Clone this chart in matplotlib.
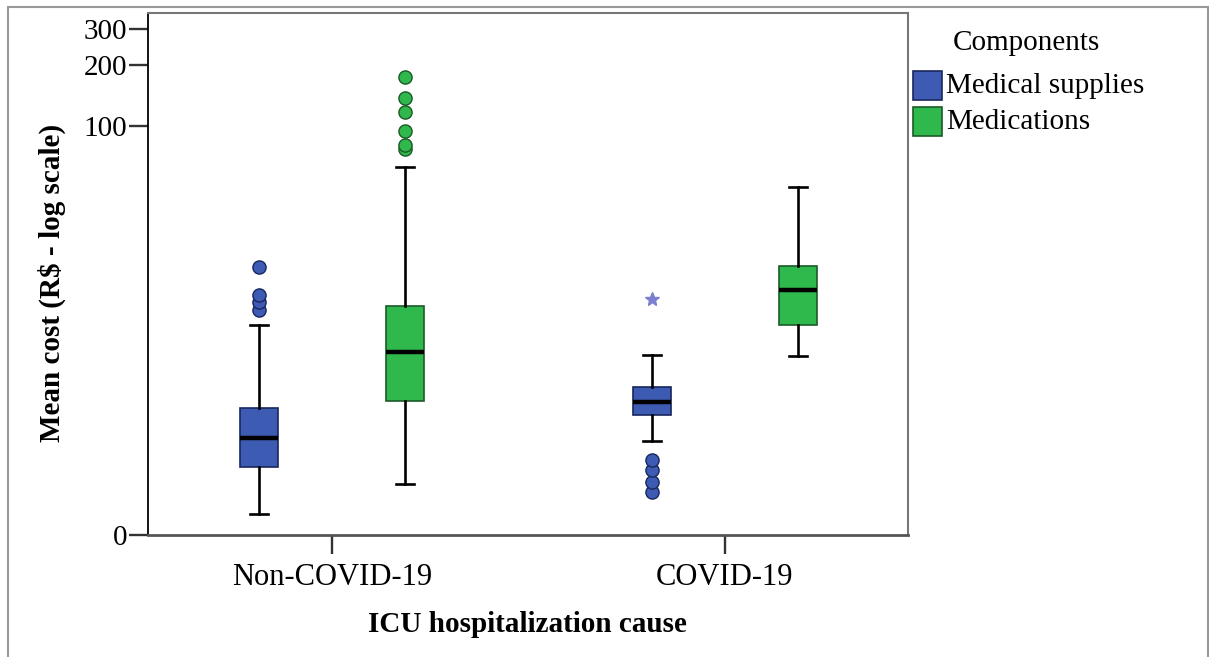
import matplotlib.pyplot as plt
import numpy as np
from matplotlib.patches import Rectangle

plt.rcParams['font.family'] = ['Liberation Serif', 'DejaVu Serif']

groups = ['Non-COVID-19', 'COVID-19']
components = ['Medical supplies', 'Medications']
colors = ['#3d5bb3', '#2fb84b']
edge_colors = ['#18275e', '#1b5a27']

# box summaries per group: whisker low, Q1, median, Q3, whisker high
supplies_lo = [0.27, 1.90]
supplies_q1 = [1.16, 2.88]
supplies_med = [2.0, 3.47]
supplies_q3 = [3.18, 4.30]
supplies_hi = [9.7, 6.63]
supplies_out = [[11.7, 12.9, 14.0, 19.7], [0.63, 0.82, 1.08, 1.33]]
supplies_ext = [[], [13.3]]

meds_lo = [0.77, 6.57]
meds_q1 = [3.52, 9.7]
meds_med = [6.86, 14.8]
meds_q3 = [12.3, 19.8]
meds_hi = [63.0, 49.6]
meds_out = [[77.0, 80.6, 95.0, 118.0, 137.0, 174.0], []]
meds_ext = [[], []]

yticks = [0, 100, 200, 300]


def make_stats(lo, q1, med, q3, hi, out):
    return [dict(whislo=lo[i], q1=q1[i], med=med[i], q3=q3[i], whishi=hi[i],
                 fliers=out[i]) for i in range(len(lo))]


series = [
    (make_stats(supplies_lo, supplies_q1, supplies_med, supplies_q3, supplies_hi, supplies_out), supplies_ext),
    (make_stats(meds_lo, meds_q1, meds_med, meds_q3, meds_hi, meds_out), meds_ext),
]

fig = plt.figure(figsize=(12.09, 6.57), dpi=100)
ax = fig.add_axes([148 / 1209, 1 - 535 / 657, 760 / 1209, 522 / 657])

# log scale that still shows zero: log10(x + 1)
ax.set_yscale('function', functions=(lambda v: np.log10(np.maximum(v, 0) + 1),
                                     lambda t: 10 ** t - 1))

x = np.arange(len(groups))
offsets = [-0.186, 0.186]
for k, (stats, extremes) in enumerate(series):
    pos = x + offsets[k]
    ax.bxp(stats, positions=pos, widths=0.097, capwidths=0.047, patch_artist=True,
           boxprops=dict(facecolor=colors[k], edgecolor=edge_colors[k], linewidth=1.2),
           medianprops=dict(color='black', linewidth=3.2),
           whiskerprops=dict(color='black', linewidth=1.9),
           capprops=dict(color='black', linewidth=1.9),
           flierprops=dict(marker='o', markersize=9.5, markerfacecolor=colors[k],
                           markeredgecolor=edge_colors[k], markeredgewidth=1.0))
    for p, ext in zip(pos, extremes):
        if ext:
            ax.plot([p] * len(ext), ext, linestyle='none', marker='*', markersize=10,
                    color='#7a7fcf')

ax.set_xlim(-0.468, 1.466)
ax.set_ylim(0, 361)
ax.set_xticks(x)
ax.set_xticklabels(groups)
ax.set_yticks(yticks)
ax.set_yticklabels([str(v) for v in yticks])
ax.minorticks_off()
ax.tick_params(axis='both', labelsize=21, length=14, width=1.7, color='#333333')
ax.tick_params(axis='y', pad=1)
ax.tick_params(axis='x', pad=6)
for lbl in ax.get_xticklabels():
    lbl.set_fontsize(22)

ax.spines['left'].set_color('black')
ax.spines['left'].set_linewidth(1.3)
ax.spines['bottom'].set_color('#555555')
ax.spines['bottom'].set_linewidth(2.0)
for side in ['top', 'right']:
    ax.spines[side].set_color('#777777')
    ax.spines[side].set_linewidth(1.5)

fig.text(52 / 1209, 1 - 283 / 657, 'Mean cost (R$ - log scale)', rotation=90,
         ha='center', va='center', fontsize=21, fontweight='bold')
fig.text(527 / 1209, 1 - 625 / 657, 'ICU hospitalization cause',
         ha='center', va='center', fontsize=21, fontweight='bold')

# legend
fig.text(1026 / 1209, 1 - 43 / 657, 'Components', ha='center', va='center', fontsize=21)
for k, label in enumerate(components):
    top = 71 + k * 36
    fig.add_artist(Rectangle((913 / 1209, 1 - (top + 29) / 657), 29 / 1209, 29 / 657,
                             transform=fig.transFigure, facecolor=colors[k],
                             edgecolor=edge_colors[k], linewidth=1.2))
    fig.text(946 / 1209, 1 - (top + 15) / 657, label, ha='left', va='center', fontsize=21)

# outer frame
fig.add_artist(Rectangle((8 / 1209, -0.05), 1200 / 1209, 1.05 - 7 / 657,
                         transform=fig.transFigure, fill=False,
                         edgecolor='#999999', linewidth=1.5))

fig.savefig('out.png', dpi=100)
